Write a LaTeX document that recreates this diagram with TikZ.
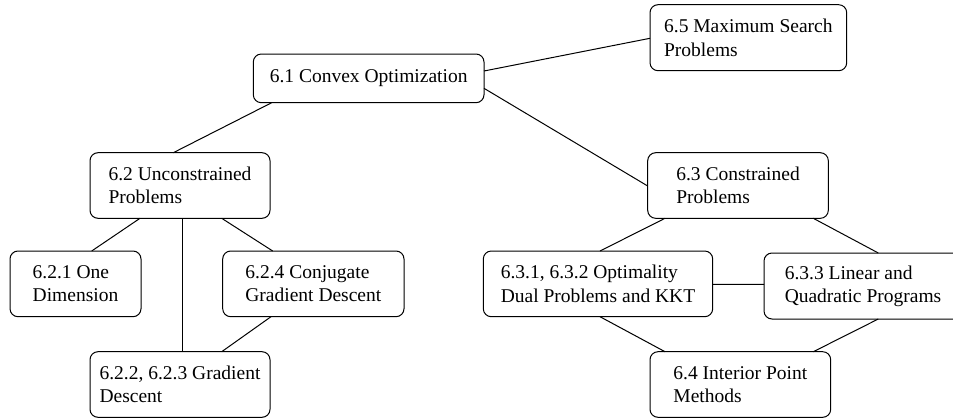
\documentclass[tikz,border=0pt]{standalone}
\usepackage{fontspec}
\setmainfont{Liberation Serif}
\usetikzlibrary{calc}
\begin{document}
\begin{tikzpicture}[x=1pt,y=-1pt,
  box/.style={draw, line width=1pt, rounded corners=8pt, align=left,
    inner sep=0pt, outer sep=0pt, fill=white,
    font=\fontsize{19.5}{23.3}\selectfont},
  link/.style={line width=1pt}]
\useasboundingbox (0,0) rectangle (953,418);

\node[box, minimum width=230.7pt, minimum height=48.7pt] (n61) at (368.65,78.35) {6.1 Convex Optimization};
\node[box, minimum width=196.7pt, minimum height=66pt] (n65) at (748.35,37.7) {6.5 Maximum Search\\Problems};
\node[box, minimum width=180pt, minimum height=65.6pt] (n62) at (180,185.5) {6.2 Unconstrained\\Problems};
\node[box, minimum width=180.6pt, minimum height=65.6pt] (n63) at (738,185.5) {6.3 Constrained\\Problems};
\node[box, minimum width=131pt, minimum height=65.7pt] (n621) at (75.5,283.85) {6.2.1 One\\Dimension};
\node[box, minimum width=181.3pt, minimum height=65.7pt] (n624) at (313.35,283.85) {6.2.4 Conjugate\\Gradient Descent};
\node[box, minimum width=180pt, minimum height=65.6pt] (n622) at (180,384.5) {6.2.2, 6.2.3 Gradient\\Descent};
\node[box, minimum width=229.4pt, minimum height=65.7pt] (n631) at (598,283.85) {6.3.1, 6.3.2 Optimality\\Dual Problems and KKT};
\node[box, minimum width=198pt, minimum height=66pt] (n633) at (863,286) {6.3.3 Linear and\\Quadratic Programs};
\node[box, minimum width=180.7pt, minimum height=65.6pt] (n64) at (740.35,384.5) {6.4 Interior Point\\Methods};

\draw[link] ($(n61.north east)+(0,17)$) -- ($(n65.north west)+(0,33.6)$);
\draw[link] ($(n61.north east)+(0,34.3)$) -- ($(n63.north west)+(0,33.3)$);
\draw[link] ($(n61.south west)+(18.4,0)$) -- ($(n62.north west)+(83.3,0)$);
\draw[link] ($(n62.south west)+(50,0)$) -- ($(n621.north west)+(81.7,0)$);
\draw[link] ($(n62.south)+(2.7,0)$) -- ($(n622.north)+(2.7,0)$);
\draw[link] ($(n62.south west)+(131.7,0)$) -- ($(n624.north west)+(50,0)$);
\draw[link] ($(n624.south west)+(48.3,0)$) -- ($(n622.north west)+(131.7,0)$);
\draw[link] ($(n63.south west)+(17.3,0)$) -- ($(n631.north west)+(116.7,0)$);
\draw[link] ($(n63.south west)+(165.6,0)$) -- ($(n633.north west)+(114.3,0)$);
\draw[link] ($(n631.north east)+(0,33.3)$) -- ($(n633.north west)+(0,31.3)$);
\draw[link] ($(n631.south west)+(116.7,0)$) -- ($(n64.north west)+(15,0)$);
\draw[link] ($(n633.south west)+(114.3,0)$) -- ($(n64.north west)+(163.3,0)$);
\end{tikzpicture}
\end{document}
